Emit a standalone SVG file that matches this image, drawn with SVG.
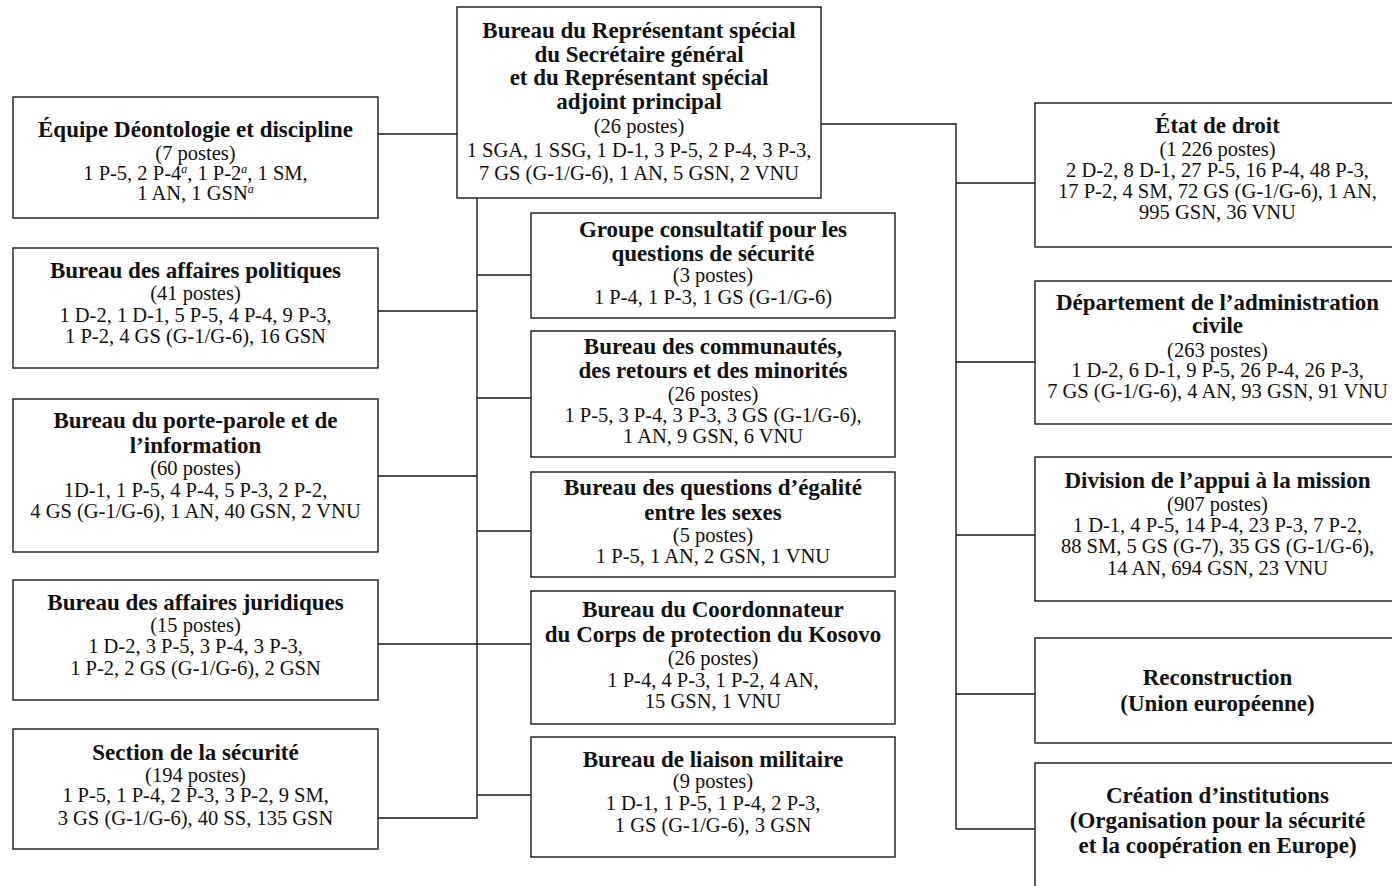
<svg xmlns="http://www.w3.org/2000/svg" width="1392" height="886" viewBox="0 0 1392 886">
<style>
.box{fill:#fff;stroke:#1a1a1a;stroke-width:1.4}
.ln{fill:none;stroke:#1a1a1a;stroke-width:1.4}
text{font-family:"Liberation Serif","Times New Roman",serif;fill:#111;text-anchor:middle}
.b{font-weight:bold;font-size:23px}
.r{font-size:20.5px}
.sup{font-style:italic;font-size:12px}
</style>
<rect width="1392" height="886" fill="#fff"/>
<g id="connectors">
<path class="ln" d="M378 134H457"/>
<path class="ln" d="M821 124H956V829"/>
<path class="ln" d="M956 183H1035M956 362H1035M956 535H1035M956 694H1035M956 829H1035"/>
<path class="ln" d="M477 198V818H378"/>
<path class="ln" d="M378 311H477M378 476H477M378 644H531"/>
<path class="ln" d="M477 275H531M477 398H531M477 531H531M477 795H531"/>
</g>
<g id="top">
<rect class="box" x="457" y="7" width="364" height="191"/>
<text class="b" x="639" y="38">Bureau du Représentant spécial</text>
<text class="b" x="639" y="62">du Secrétaire général</text>
<text class="b" x="639" y="85">et du Représentant spécial</text>
<text class="b" x="639" y="109">adjoint principal</text>
<text class="r" x="639" y="133">(26 postes)</text>
<text class="r" x="639" y="157">1 SGA, 1 SSG, 1 D-1, 3 P-5, 2 P-4, 3 P-3,</text>
<text class="r" x="639" y="180">7 GS (G-1/G-6), 1 AN, 5 GSN, 2 VNU</text>
</g>
<g id="deontologie">
<rect class="box" x="13" y="97" width="365" height="121"/>
<text class="b" x="195.5" y="137">Équipe Déontologie et discipline</text>
<text class="r" x="195.5" y="160">(7 postes)</text>
<text class="r" x="195.5" y="180">1 P-5, 2 P-4<tspan class="sup" dy="-7">a</tspan><tspan dy="7">, 1 P-2</tspan><tspan class="sup" dy="-7">a</tspan><tspan dy="7">, 1 SM,</tspan></text>
<text class="r" x="195.5" y="200">1 AN, 1 GSN<tspan class="sup" dy="-7">a</tspan></text>
</g>
<g id="politiques">
<rect class="box" x="13" y="248" width="365" height="120"/>
<text class="b" x="195.5" y="278">Bureau des affaires politiques</text>
<text class="r" x="195.5" y="300">(41 postes)</text>
<text class="r" x="195.5" y="322">1 D-2, 1 D-1, 5 P-5, 4 P-4, 9 P-3,</text>
<text class="r" x="195.5" y="343">1 P-2, 4 GS (G-1/G-6), 16 GSN</text>
</g>
<g id="porte-parole">
<rect class="box" x="13" y="399" width="365" height="153"/>
<text class="b" x="195.5" y="428">Bureau du porte-parole et de</text>
<text class="b" x="195.5" y="453">l’information</text>
<text class="r" x="195.5" y="475">(60 postes)</text>
<text class="r" x="195.5" y="497">1D-1, 1 P-5, 4 P-4, 5 P-3, 2 P-2,</text>
<text class="r" x="195.5" y="518">4 GS (G-1/G-6), 1 AN, 40 GSN, 2 VNU</text>
</g>
<g id="juridiques">
<rect class="box" x="13" y="580" width="365" height="120"/>
<text class="b" x="195.5" y="610">Bureau des affaires juridiques</text>
<text class="r" x="195.5" y="632">(15 postes)</text>
<text class="r" x="195.5" y="653">1 D-2, 3 P-5, 3 P-4, 3 P-3,</text>
<text class="r" x="195.5" y="675">1 P-2, 2 GS (G-1/G-6), 2 GSN</text>
</g>
<g id="securite">
<rect class="box" x="13" y="729" width="365" height="120"/>
<text class="b" x="195.5" y="760">Section de la sécurité</text>
<text class="r" x="195.5" y="782">(194 postes)</text>
<text class="r" x="195.5" y="802">1 P-5, 1 P-4, 2 P-3, 3 P-2, 9 SM,</text>
<text class="r" x="195.5" y="825">3 GS (G-1/G-6), 40 SS, 135 GSN</text>
</g>
<g id="consultatif">
<rect class="box" x="531" y="213" width="364" height="105"/>
<text class="b" x="713" y="237">Groupe consultatif pour les</text>
<text class="b" x="713" y="261">questions de sécurité</text>
<text class="r" x="713" y="282">(3 postes)</text>
<text class="r" x="713" y="304">1 P-4, 1 P-3, 1 GS (G-1/G-6)</text>
</g>
<g id="communautes">
<rect class="box" x="531" y="331" width="364" height="126"/>
<text class="b" x="713" y="354">Bureau des communautés,</text>
<text class="b" x="713" y="378">des retours et des minorités</text>
<text class="r" x="713" y="401">(26 postes)</text>
<text class="r" x="713" y="422">1 P-5, 3 P-4, 3 P-3, 3 GS (G-1/G-6),</text>
<text class="r" x="713" y="443">1 AN, 9 GSN, 6 VNU</text>
</g>
<g id="egalite">
<rect class="box" x="531" y="472" width="364" height="105"/>
<text class="b" x="713" y="495">Bureau des questions d’égalité</text>
<text class="b" x="713" y="520">entre les sexes</text>
<text class="r" x="713" y="542">(5 postes)</text>
<text class="r" x="713" y="563">1 P-5, 1 AN, 2 GSN, 1 VNU</text>
</g>
<g id="coordonnateur">
<rect class="box" x="531" y="591" width="364" height="133"/>
<text class="b" x="713" y="617">Bureau du Coordonnateur</text>
<text class="b" x="713" y="642">du Corps de protection du Kosovo</text>
<text class="r" x="713" y="665">(26 postes)</text>
<text class="r" x="713" y="687">1 P-4, 4 P-3, 1 P-2, 4 AN,</text>
<text class="r" x="713" y="708">15 GSN, 1 VNU</text>
</g>
<g id="liaison">
<rect class="box" x="531" y="737" width="364" height="120"/>
<text class="b" x="713" y="767">Bureau de liaison militaire</text>
<text class="r" x="713" y="788">(9 postes)</text>
<text class="r" x="713" y="810">1 D-1, 1 P-5, 1 P-4, 2 P-3,</text>
<text class="r" x="713" y="832">1 GS (G-1/G-6), 3 GSN</text>
</g>
<g id="etat-de-droit">
<rect class="box" x="1035" y="103" width="370" height="144"/>
<text class="b" x="1217.5" y="133">État de droit</text>
<text class="r" x="1217.5" y="156">(1 226 postes)</text>
<text class="r" x="1217.5" y="177">2 D-2, 8 D-1, 27 P-5, 16 P-4, 48 P-3,</text>
<text class="r" x="1217.5" y="198">17 P-2, 4 SM, 72 GS (G-1/G-6), 1 AN,</text>
<text class="r" x="1217.5" y="219">995 GSN, 36 VNU</text>
</g>
<g id="administration-civile">
<rect class="box" x="1035" y="281" width="370" height="143"/>
<text class="b" x="1217.5" y="310">Département de l’administration</text>
<text class="b" x="1217.5" y="333">civile</text>
<text class="r" x="1217.5" y="357">(263 postes)</text>
<text class="r" x="1217.5" y="377">1 D-2, 6 D-1, 9 P-5, 26 P-4, 26 P-3,</text>
<text class="r" x="1217.5" y="398">7 GS (G-1/G-6), 4 AN, 93 GSN, 91 VNU</text>
</g>
<g id="appui-mission">
<rect class="box" x="1035" y="457" width="370" height="144"/>
<text class="b" x="1217.5" y="488">Division de l’appui à la mission</text>
<text class="r" x="1217.5" y="511">(907 postes)</text>
<text class="r" x="1217.5" y="532">1 D-1, 4 P-5, 14 P-4, 23 P-3, 7 P-2,</text>
<text class="r" x="1217.5" y="553">88 SM, 5 GS (G-7), 35 GS (G-1/G-6),</text>
<text class="r" x="1217.5" y="575">14 AN, 694 GSN, 23 VNU</text>
</g>
<g id="reconstruction">
<rect class="box" x="1035" y="638" width="370" height="105"/>
<text class="b" x="1217.5" y="685">Reconstruction</text>
<text class="b" x="1217.5" y="711">(Union européenne)</text>
</g>
<g id="institutions">
<rect class="box" x="1035" y="763" width="370" height="140"/>
<text class="b" x="1217.5" y="803">Création d’institutions</text>
<text class="b" x="1217.5" y="828">(Organisation pour la sécurité</text>
<text class="b" x="1217.5" y="853">et la coopération en Europe)</text>
</g>
</svg>
